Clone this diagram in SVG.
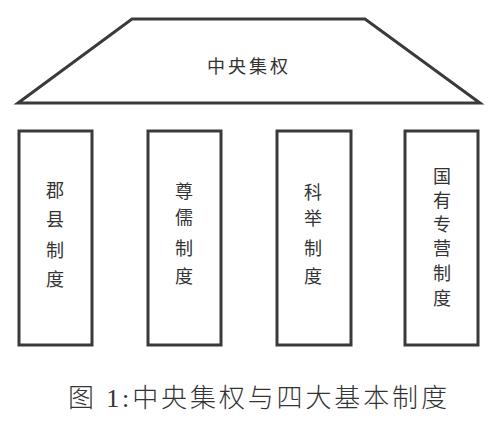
<svg xmlns="http://www.w3.org/2000/svg" width="500" height="425" viewBox="0 0 500 425">
<style>
.shape{fill:#fff;stroke:#3a3a3a;stroke-width:3;stroke-linejoin:miter}
.lbl{font-family:"Noto Sans CJK SC","Noto Sans",sans-serif;font-size:18px;fill:#333;text-anchor:middle;font-weight:400}
.cap{font-family:"Liberation Serif","Noto Sans CJK SC",serif;font-size:26px;fill:#333;font-weight:300}
</style>
<rect width="500" height="425" fill="#fff"/>
<g id="top">
<polygon class="shape" points="132,19 365,19 480,103 18,103"/>
<text class="lbl" x="249" y="73" letter-spacing="3" font-size="22">中央集权</text>
</g>
<g id="n1">
<rect class="shape" x="19" y="131" width="73" height="214"/>
<text class="lbl" x="55" y="197">郡</text>
<text class="lbl" x="55" y="226">县</text>
<text class="lbl" x="55" y="257">制</text>
<text class="lbl" x="55" y="286">度</text>
</g>
<g id="n2">
<rect class="shape" x="148" y="131" width="73" height="214"/>
<text class="lbl" x="184" y="198">尊</text>
<text class="lbl" x="184" y="224">儒</text>
<text class="lbl" x="184" y="255">制</text>
<text class="lbl" x="184" y="283">度</text>
</g>
<g id="n3">
<rect class="shape" x="277" y="131" width="74" height="214"/>
<text class="lbl" x="313" y="199">科</text>
<text class="lbl" x="313" y="225">举</text>
<text class="lbl" x="313" y="255">制</text>
<text class="lbl" x="313" y="283">度</text>
</g>
<g id="n4">
<rect class="shape" x="405" y="131" width="73" height="214"/>
<text class="lbl" x="442" y="183">国</text>
<text class="lbl" x="442" y="207">有</text>
<text class="lbl" x="442" y="231">专</text>
<text class="lbl" x="442" y="255">营</text>
<text class="lbl" x="442" y="280">制</text>
<text class="lbl" x="442" y="305">度</text>
</g>
<g id="connectors"/>
<text class="cap" x="68" y="407" textLength="379" lengthAdjust="spacing">图 1:中央集权与四大基本制度</text>
</svg>
